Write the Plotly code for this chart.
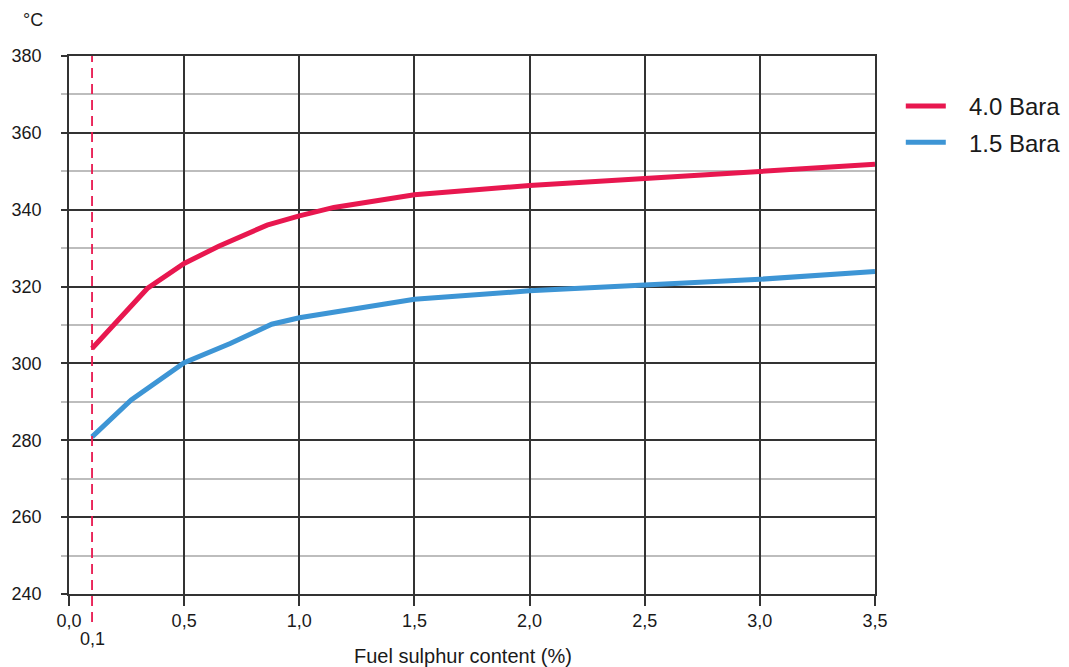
import plotly.graph_objects as go

# Data
sulphur_40 = [0.1, 0.34, 0.5, 0.65, 0.86, 1.0, 1.15, 1.5, 2.0, 2.5, 3.0, 3.5]
temp_40 = [303.9, 319.5, 326.0, 330.5, 336.0, 338.4, 340.6, 343.9, 346.3, 348.2, 350.0, 351.8]

sulphur_15 = [0.1, 0.27, 0.5, 0.7, 0.88, 1.0, 1.5, 2.0, 2.5, 3.0, 3.5]
temp_15 = [280.9, 290.5, 300.2, 305.2, 310.2, 311.9, 316.7, 318.9, 320.4, 321.9, 323.9]

series_names = ["4.0 Bara", "1.5 Bara"]
series_colors = ["#e8174f", "#3d95d5"]

x_ticks = [0.0, 0.5, 1.0, 1.5, 2.0, 2.5, 3.0, 3.5]
y_ticks = [240, 260, 280, 300, 320, 340, 360, 380]
limit_x = 0.1

FONT = "Liberation Sans, Arial, sans-serif"
TXT = "#1a1a1a"
PAD = "\u00a0\u00a0\u2009"

fig = go.Figure()
fig.add_trace(go.Scatter(x=sulphur_40, y=temp_40, mode="lines", name=PAD + series_names[0],
                         legendgroup="a", line=dict(color=series_colors[0], width=5)))
fig.add_trace(go.Scatter(x=sulphur_15, y=temp_15, mode="lines", name=PAD + series_names[1],
                         legendgroup="b", line=dict(color=series_colors[1], width=5)))

# dashed vertical line at 0.1
fig.add_shape(type="line", xref="x", yref="paper", x0=limit_x, x1=limit_x, y0=-0.052, y1=1,
              line=dict(color="#e8174f", width=1.8, dash="10px,6px"), layer="above")

fig.add_annotation(x=limit_x, xref="x", y=-0.083, yref="paper", text="0,1", showarrow=False,
                   font=dict(size=18, color=TXT, family=FONT), xanchor="center", yanchor="middle")
fig.add_annotation(x=0.4885, xref="paper", y=-0.115, yref="paper", text="Fuel sulphur content (%)",
                   showarrow=False, font=dict(size=20, color=TXT, family=FONT),
                   xanchor="center", yanchor="middle")
fig.add_annotation(x=-0.0447, xref="paper", y=1.067, yref="paper", text="°C", showarrow=False,
                   font=dict(size=18, color=TXT, family=FONT), xanchor="center", yanchor="middle")

fig.update_layout(
    width=1069, height=667,
    margin=dict(l=61, r=202, t=48, b=81, autoexpand=False),
    paper_bgcolor="white", plot_bgcolor="white",
    separators=",.",
    font=dict(family=FONT, size=18, color=TXT),
    showlegend=True,
    legend=dict(x=1.032, y=0.948, xanchor="left", yanchor="top",
                font=dict(size=24, family=FONT, color=TXT),
                bgcolor="rgba(0,0,0,0)", tracegroupgap=2, itemwidth=40),
    xaxis=dict(range=[0, 3.5], tickvals=x_ticks, tickformat=".1f", automargin=False,
               showgrid=True, gridcolor="#333", gridwidth=1.5,
               showline=True, linecolor="#333", linewidth=1.5, mirror=True,
               ticks="outside", ticklen=10, tickcolor="#333", tickwidth=1.5,
               zeroline=False, tickfont=dict(size=18, family=FONT, color=TXT)),
    yaxis=dict(range=[240, 380], tickvals=y_ticks, automargin=False,
               showgrid=True, gridcolor="#333", gridwidth=1.5,
               showline=True, linecolor="#333", linewidth=1.5, mirror=True,
               ticks="outside", ticklen=6, tickcolor="#333", tickwidth=1.5,
               ticklabelstandoff=16,
               zeroline=False, tickfont=dict(size=18, family=FONT, color=TXT),
               minor=dict(dtick=10, tick0=240, showgrid=True, gridcolor="#bdbdbd", gridwidth=1.5,
                          ticks="outside", ticklen=6, tickcolor="#bdbdbd", tickwidth=1.5)),
)

fig.write_html("out.html")
